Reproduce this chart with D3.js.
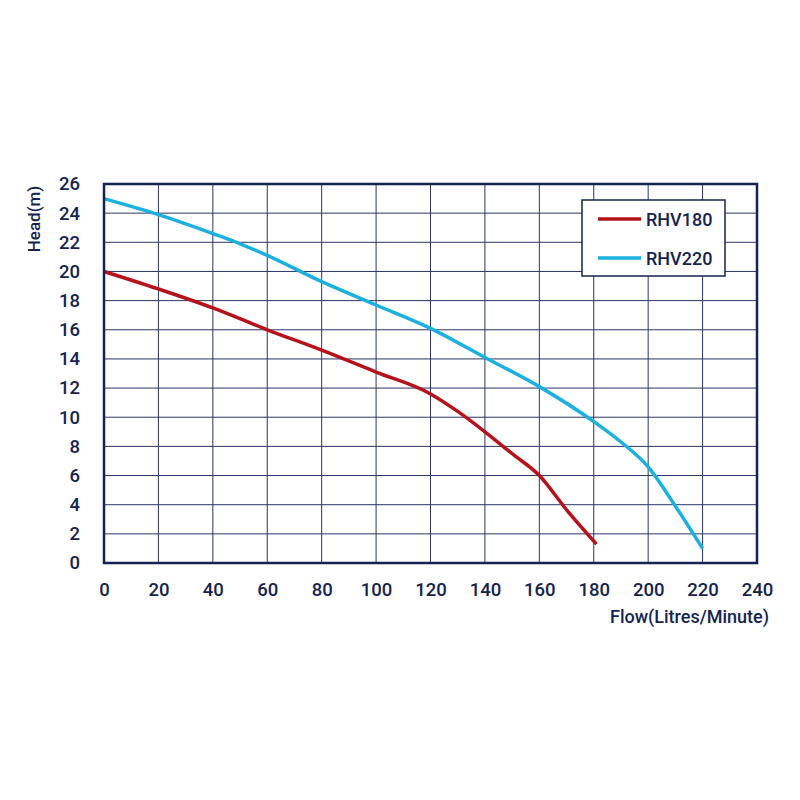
<!DOCTYPE html>
<html><head><meta charset="utf-8">
<script src="https://cdn.jsdelivr.net/npm/d3@7"></script>
<style>body{margin:0;background:#fff}text{font-family:Roboto,"DejaVu Sans",sans-serif;font-weight:500;fill:#14234f}</style>
</head><body><svg id="c" width="800" height="800"></svg>
<script>
const xTicks=[0,20,40,60,80,100,120,140,160,180,200,220,240];
const yTicks=[0,2,4,6,8,10,12,14,16,18,20,22,24,26];
const rhv180Flow=[0,20,40,60,80,100,120,130,140,150,160,170,181];
const rhv180Head=[20,18.8,17.5,16.0,14.6,13.1,11.6,10.4,9.0,7.5,6.0,3.65,1.3];
const rhv220Flow=[0,20,40,50,60,80,100,120,140,160,180,190,200,210,220];
const rhv220Head=[25,23.9,22.6,21.9,21.1,19.3,17.7,16.1,14.1,12.1,9.7,8.3,6.6,3.9,1.0];
const seriesNames=["RHV180","RHV220"];
const colors=["#b5121b","#1ab0e0"];

const svg=d3.select("#c");
const L=104,R=757,T=184,B=563;
const x=d3.scaleLinear().domain([0,240]).range([L,R]);
const y=d3.scaleLinear().domain([0,26]).range([B,T]);
const navy="#14234f";
svg.append("g").selectAll("line").data(xTicks).join("line")
 .attr("x1",d=>x(d)).attr("x2",d=>x(d)).attr("y1",T).attr("y2",B)
 .attr("stroke","#2b3566").attr("stroke-width",1);
svg.append("g").selectAll("line").data(yTicks).join("line")
 .attr("y1",d=>y(d)).attr("y2",d=>y(d)).attr("x1",L).attr("x2",R)
 .attr("stroke","#2b3566").attr("stroke-width",1);
const xa=svg.append("g").attr("transform",`translate(0,${B})`).call(d3.axisBottom(x).tickValues(xTicks).tickSize(0).tickPadding(20));
xa.select(".domain").remove();
xa.selectAll("text").attr("font-size",18.5).style("font-family","Roboto").style("font-weight",500).attr("fill",navy);
const ya=svg.append("g").attr("transform",`translate(${L},0)`).call(d3.axisLeft(y).tickValues(yTicks).tickSize(0).tickPadding(24));
ya.select(".domain").remove();
ya.selectAll("text").attr("font-size",18.5).style("font-family","Roboto").style("font-weight",500).attr("fill",navy);
const line=d3.line().x(d=>x(d[0])).y(d=>y(d[1])).curve(d3.curveMonotoneX);
const data=[d3.zip(rhv180Flow,rhv180Head),d3.zip(rhv220Flow,rhv220Head)];
data.forEach((d,i)=>svg.append("path").datum(d).attr("d",line).attr("fill","none")
 .attr("stroke",colors[i]).attr("stroke-width",3.5));
svg.append("rect").attr("x",L).attr("y",T).attr("width",R-L).attr("height",B-T)
 .attr("fill","none").attr("stroke",navy).attr("stroke-width",2.5);
const lg=svg.append("g");
lg.append("rect").attr("x",582).attr("y",200).attr("width",143).attr("height",76)
 .attr("fill","#fff").attr("stroke",navy).attr("stroke-width",1.5);
seriesNames.forEach((n,i)=>{
 const yy=219+i*39;
 lg.append("line").attr("x1",598).attr("x2",641).attr("y1",yy).attr("y2",yy).attr("stroke",colors[i]).attr("stroke-width",3.5);
 lg.append("text").attr("x",646).attr("y",yy+6.5).attr("font-size",18).text(n);
});
svg.append("text").attr("transform","translate(40,219) rotate(-90)").attr("text-anchor","middle").attr("font-size",17).text("Head(m)");
svg.append("text").attr("x",769).attr("y",623).attr("text-anchor","end").attr("font-size",18).text("Flow(Litres/Minute)");
</script></body></html>
